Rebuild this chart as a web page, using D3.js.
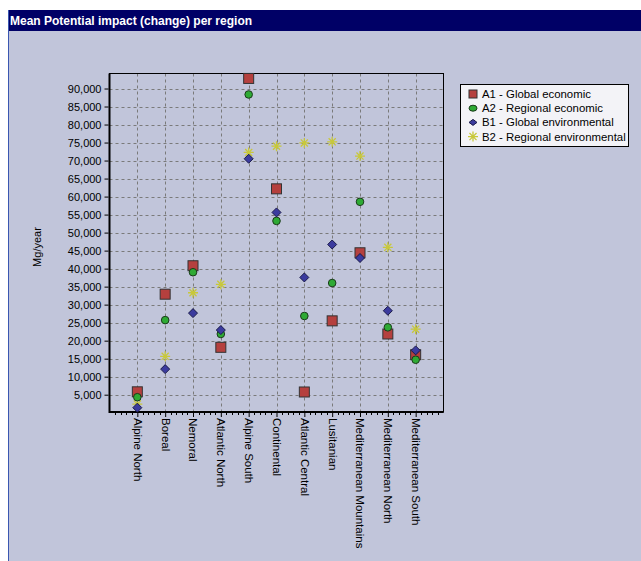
<!DOCTYPE html>
<html><head><meta charset="utf-8">
<script src="https://cdn.jsdelivr.net/npm/d3@7"></script>
<style>html,body{margin:0;padding:0;background:#fff;}svg{display:block;}</style>
</head><body>
<script>
const title = "Mean Potential impact (change) per region";
const yLabel = "Mg/year";
const categories = ["Alpine North","Boreal","Nemoral","Atlantic North","Alpine South","Continental","Atlantic Central","Lusitanian","Mediterranean Mountains","Mediterranean North","Mediterranean South"];
const seriesNames = ["A1 - Global economic","A2 - Regional economic","B1 - Global environmental","B2 - Regional environmental"];
const a1 = [5800, 32900, 40800, 18150, 92800, 62150, 5750, 25500, 44400, 21850, 16100];
const a2 = [4300, 25700, 39000, 21850, 88350, 53250, 26850, 36000, 58550, 23700, 14700];
const b1 = [1400, 12100, 27650, 22950, 70500, 55600, 37550, 46700, 42950, 28300, 17300];
const b2 = [2400, 15650, 33300, 35650, 72250, 74000, 74900, 75200, 71250, 45900, 23200];
const yTicks = [5000,10000,15000,20000,25000,30000,35000,40000,45000,50000,55000,60000,65000,70000,75000,80000,85000,90000];

(function () {
const W = 641, H = 561;
const svg = d3.select("body").append("svg").attr("width", W).attr("height", H)
  .style("font-family", "Arial, 'Liberation Sans', sans-serif");

// panel
svg.append("rect").attr("x", 0).attr("y", 0).attr("width", W).attr("height", H).attr("fill", "#ffffff");
svg.append("rect").attr("x", 8).attr("y", 10).attr("width", W - 8).attr("height", H - 10).attr("fill", "#c1c5da");
svg.append("rect").attr("x", 8).attr("y", 10).attr("width", W - 8).attr("height", 21).attr("fill", "#000066");
svg.append("line").attr("x1", 8.5).attr("x2", 8.5).attr("y1", 10).attr("y2", H).attr("stroke", "#3a56b0").attr("stroke-width", 1);
svg.append("text").attr("x", 10).attr("y", 25).attr("fill", "#ffffff")
  .attr("font-size", 12).attr("font-weight", "bold").text(title);

const pLeft = 109.5, pRight = 443.5, pTop = 73.5, pBottom = 412;
const x = d3.scalePoint().domain(categories).range([pLeft, pRight]).padding(1);
const y = d3.scaleLinear().domain([0, 94170]).range([412.7, pTop]);

const g = svg.append("g");
// grid
g.selectAll(".hg").data(yTicks).join("line")
  .attr("x1", pLeft).attr("x2", pRight)
  .attr("y1", d => Math.round(y(d)) + 0.5).attr("y2", d => Math.round(y(d)) + 0.5)
  .attr("stroke", "#7a7a7a").attr("stroke-dasharray", "3,3");
g.selectAll(".vg").data(categories).join("line")
  .attr("x1", d => Math.round(x(d)) + 0.5).attr("x2", d => Math.round(x(d)) + 0.5)
  .attr("y1", pTop).attr("y2", pBottom)
  .attr("stroke", "#7a7a7a").attr("stroke-dasharray", "3,3");

// border
g.append("rect").attr("x", pLeft).attr("y", pTop).attr("width", pRight - pLeft).attr("height", pBottom - pTop)
  .attr("fill", "none").attr("stroke", "#000").attr("stroke-width", 1);
g.append("line").attr("x1", pLeft).attr("x2", pLeft).attr("y1", pTop).attr("y2", pBottom + 1).attr("stroke", "#000").attr("stroke-width", 2);
g.append("line").attr("x1", pLeft).attr("x2", pRight).attr("y1", pBottom).attr("y2", pBottom).attr("stroke", "#000").attr("stroke-width", 2);

// y axis
const yAxis = d3.axisLeft(y).tickValues(yTicks).tickSize(4).tickPadding(3).tickFormat(d3.format(","));
const ya = svg.append("g").attr("transform", `translate(${pLeft - 1},0)`).call(yAxis);
ya.select(".domain").remove();
ya.selectAll("text").attr("font-size", 11).attr("fill", "#000").attr("font-family", "Arial, 'Liberation Sans', sans-serif");
ya.selectAll("line").attr("stroke", "#000");

// x axis
const xAxis = d3.axisBottom(x).tickSize(4).tickPadding(0);
const xa = svg.append("g").attr("transform", `translate(0,${pBottom + 1})`).call(xAxis);
xa.select(".domain").remove();
xa.selectAll("line").attr("stroke", "#000");
xa.selectAll("text").attr("font-size", 11.5).attr("fill", "#000")
  .attr("font-family", "Arial, 'Liberation Sans', sans-serif")
  .attr("transform", "rotate(90)").attr("x", 5).attr("y", 0).attr("dy", "0.35em")
  .attr("text-anchor", "start");
// minor ticks
const step = x.step();
const minor = [];
for (let i = 0; i <= 12; i++) for (let k = 1; k < 5; k++) minor.push(pLeft + i * step + k * step / 5);
svg.append("g").selectAll("line").data(minor.filter(v => v < pRight)).join("line")
  .attr("x1", d => Math.round(d) + 0.5).attr("x2", d => Math.round(d) + 0.5)
  .attr("y1", pBottom + 1).attr("y2", pBottom + 3).attr("stroke", "#000");

svg.append("text").attr("transform", `translate(41,247) rotate(-90)`).attr("text-anchor", "middle")
  .attr("font-size", 11).attr("fill", "#000").text(yLabel);

// markers
const colors = {sq: "#b5403e", ci: "#2eaa34", di: "#3b3b9e", st: "#c8c83a"};
function drawSquare(sel, cx, cy) {
  sel.append("rect").attr("x", cx - 5).attr("y", cy - 5).attr("width", 10).attr("height", 10)
    .attr("fill", colors.sq).attr("stroke", "#333").attr("stroke-width", 1);
}
function drawCircle(sel, cx, cy) {
  sel.append("circle").attr("cx", cx).attr("cy", cy).attr("r", 3.8)
    .attr("fill", colors.ci).attr("stroke", "#1a3a1a").attr("stroke-width", 1);
}
function drawDiamond(sel, cx, cy) {
  sel.append("path").attr("d", `M${cx},${cy - 4.5}L${cx + 4.5},${cy}L${cx},${cy + 4.5}L${cx - 4.5},${cy}Z`)
    .attr("fill", colors.di).attr("stroke", "#1a1a4a").attr("stroke-width", 1);
}
function drawStar(sel, cx, cy) {
  const r = 5;
  const p = [];
  for (let i = 0; i < 4; i++) {
    const a = i * Math.PI / 4;
    p.push(`M${cx - r * Math.cos(a)},${cy - r * Math.sin(a)}L${cx + r * Math.cos(a)},${cy + r * Math.sin(a)}`);
  }
  sel.append("path").attr("d", p.join("")).attr("stroke", colors.st).attr("stroke-width", 1.3).attr("fill", "none");
}
const mg = svg.append("g");
categories.forEach((c, i) => drawStar(mg, x(c), y(b2[i])));
categories.forEach((c, i) => drawSquare(mg, x(c), y(a1[i])));
categories.forEach((c, i) => drawCircle(mg, x(c), y(a2[i])));
categories.forEach((c, i) => drawDiamond(mg, x(c), y(b1[i])));

// legend
const lg = svg.append("g");
lg.append("rect").attr("x", 460.5).attr("y", 84.5).attr("width", 168).attr("height", 62)
  .attr("fill", "#f3f3f7").attr("stroke", "#000");
seriesNames.forEach((n, i) => {
  const cy = 94 + i * 14.2;
  const s = lg.append("g");
  if (i === 0) s.append("rect").attr("x", 469).attr("y", cy - 4).attr("width", 8).attr("height", 8).attr("fill", colors.sq).attr("stroke", "#333");
  else if (i === 1) s.append("ellipse").attr("cx", 473).attr("cy", cy).attr("rx", 4).attr("ry", 3).attr("fill", colors.ci).attr("stroke", "#1a3a1a");
  else if (i === 2) s.append("path").attr("d", `M469,${cy}L473,${cy - 3}L477,${cy}L473,${cy + 3}Z`).attr("fill", colors.di).attr("stroke", "#1a1a4a");
  else drawStar(s, 473, cy);
  lg.append("text").attr("x", 482).attr("y", cy).attr("dy", "0.35em").attr("font-size", 11.4).attr("fill", "#000").text(n);
});
})();
</script>
</body></html>
